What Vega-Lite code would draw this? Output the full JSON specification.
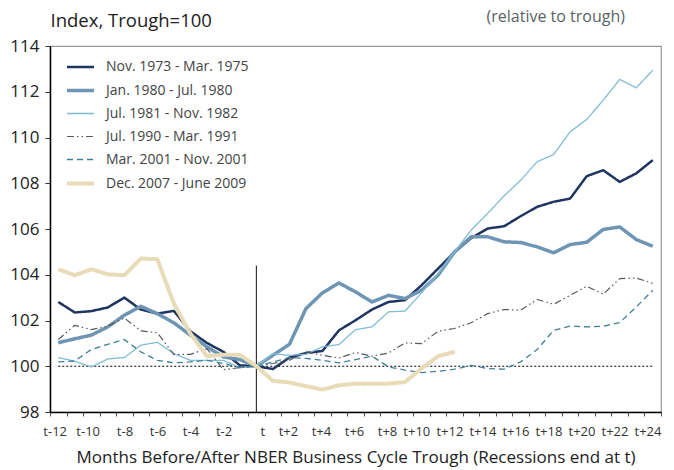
{
"$schema": "https://vega.github.io/schema/vega-lite/v6.json",
"width": 611, "height": 366,
"autosize": "none",
"padding": {"left": 50, "top": 46, "right": 13, "bottom": 58},
"config": {"font": "Open Sans", "view": {"stroke": "#9a9a9a", "strokeWidth": 1.2},
  "legend": {"orient": "none", "legendX": 15, "legendY": 6, "title": null, "symbolType": "stroke", "symbolSize": 729, "labelFontSize": 14, "labelColor": "#444", "labelOffset": 10, "rowPadding": 1, "labelFont": "Open Sans"}},
"title": {"text": "(relative to trough)", "anchor": "end", "frame": "group", "orient": "top", "fontSize": 16, "fontWeight": "normal", "color": "#5a5f66", "baseline": "bottom", "offset": -30, "dx": -36},
"layer": [
 {"data": {"values": [{"a": -12, "b": 24, "y": 100}]},
  "mark": {"type": "rule", "strokeDash": [2, 2], "color": "black", "strokeWidth": 1},
  "encoding": {"x": {"field": "a", "type": "ordinal"}, "x2": {"field": "b"}, "y": {"field": "y", "type": "quantitative"}}},
 {"data": {"values": [{"m": 0, "top": 104.4, "bot": 98}]},
  "mark": {"type": "rule", "color": "#333", "strokeWidth": 1.2},
  "encoding": {"x": {"field": "m", "type": "ordinal"}, "y": {"field": "top", "type": "quantitative"}, "y2": {"field": "bot"}}},
 {"data": {"values": [
{"r":"Nov. 1973 - Mar. 1975","m":-12,"v":102.81},{"r":"Nov. 1973 - Mar. 1975","m":-11,"v":102.35},{"r":"Nov. 1973 - Mar. 1975","m":-10,"v":102.41},{"r":"Nov. 1973 - Mar. 1975","m":-9,"v":102.57},{"r":"Nov. 1973 - Mar. 1975","m":-8,"v":103.0},{"r":"Nov. 1973 - Mar. 1975","m":-7,"v":102.48},{"r":"Nov. 1973 - Mar. 1975","m":-6,"v":102.3},{"r":"Nov. 1973 - Mar. 1975","m":-5,"v":102.42},{"r":"Nov. 1973 - Mar. 1975","m":-4,"v":101.53},{"r":"Nov. 1973 - Mar. 1975","m":-3,"v":101.02},{"r":"Nov. 1973 - Mar. 1975","m":-2,"v":100.63},{"r":"Nov. 1973 - Mar. 1975","m":-1,"v":100.04},{"r":"Nov. 1973 - Mar. 1975","m":0,"v":100},{"r":"Nov. 1973 - Mar. 1975","m":1,"v":99.88},{"r":"Nov. 1973 - Mar. 1975","m":2,"v":100.38},{"r":"Nov. 1973 - Mar. 1975","m":3,"v":100.58},{"r":"Nov. 1973 - Mar. 1975","m":4,"v":100.67},{"r":"Nov. 1973 - Mar. 1975","m":5,"v":101.57},{"r":"Nov. 1973 - Mar. 1975","m":6,"v":102.01},{"r":"Nov. 1973 - Mar. 1975","m":7,"v":102.48},{"r":"Nov. 1973 - Mar. 1975","m":8,"v":102.81},{"r":"Nov. 1973 - Mar. 1975","m":9,"v":102.89},{"r":"Nov. 1973 - Mar. 1975","m":10,"v":103.54},{"r":"Nov. 1973 - Mar. 1975","m":11,"v":104.27},{"r":"Nov. 1973 - Mar. 1975","m":12,"v":104.99},{"r":"Nov. 1973 - Mar. 1975","m":13,"v":105.6},{"r":"Nov. 1973 - Mar. 1975","m":14,"v":106.02},{"r":"Nov. 1973 - Mar. 1975","m":15,"v":106.12},{"r":"Nov. 1973 - Mar. 1975","m":16,"v":106.56},{"r":"Nov. 1973 - Mar. 1975","m":17,"v":106.97},{"r":"Nov. 1973 - Mar. 1975","m":18,"v":107.19},{"r":"Nov. 1973 - Mar. 1975","m":19,"v":107.33},{"r":"Nov. 1973 - Mar. 1975","m":20,"v":108.31},{"r":"Nov. 1973 - Mar. 1975","m":21,"v":108.57},{"r":"Nov. 1973 - Mar. 1975","m":22,"v":108.06},{"r":"Nov. 1973 - Mar. 1975","m":23,"v":108.43},{"r":"Nov. 1973 - Mar. 1975","m":24,"v":109.01},
{"r":"Jan. 1980 - Jul. 1980","m":-12,"v":101.03},{"r":"Jan. 1980 - Jul. 1980","m":-11,"v":101.2},{"r":"Jan. 1980 - Jul. 1980","m":-10,"v":101.36},{"r":"Jan. 1980 - Jul. 1980","m":-9,"v":101.72},{"r":"Jan. 1980 - Jul. 1980","m":-8,"v":102.23},{"r":"Jan. 1980 - Jul. 1980","m":-7,"v":102.62},{"r":"Jan. 1980 - Jul. 1980","m":-6,"v":102.3},{"r":"Jan. 1980 - Jul. 1980","m":-5,"v":101.9},{"r":"Jan. 1980 - Jul. 1980","m":-4,"v":101.36},{"r":"Jan. 1980 - Jul. 1980","m":-3,"v":100.85},{"r":"Jan. 1980 - Jul. 1980","m":-2,"v":100.41},{"r":"Jan. 1980 - Jul. 1980","m":-1,"v":100.29},{"r":"Jan. 1980 - Jul. 1980","m":0,"v":100},{"r":"Jan. 1980 - Jul. 1980","m":1,"v":100.48},{"r":"Jan. 1980 - Jul. 1980","m":2,"v":100.96},{"r":"Jan. 1980 - Jul. 1980","m":3,"v":102.52},{"r":"Jan. 1980 - Jul. 1980","m":4,"v":103.21},{"r":"Jan. 1980 - Jul. 1980","m":5,"v":103.64},{"r":"Jan. 1980 - Jul. 1980","m":6,"v":103.25},{"r":"Jan. 1980 - Jul. 1980","m":7,"v":102.81},{"r":"Jan. 1980 - Jul. 1980","m":8,"v":103.1},{"r":"Jan. 1980 - Jul. 1980","m":9,"v":102.96},{"r":"Jan. 1980 - Jul. 1980","m":10,"v":103.32},{"r":"Jan. 1980 - Jul. 1980","m":11,"v":103.98},{"r":"Jan. 1980 - Jul. 1980","m":12,"v":105.0},{"r":"Jan. 1980 - Jul. 1980","m":13,"v":105.66},{"r":"Jan. 1980 - Jul. 1980","m":14,"v":105.66},{"r":"Jan. 1980 - Jul. 1980","m":15,"v":105.44},{"r":"Jan. 1980 - Jul. 1980","m":16,"v":105.41},{"r":"Jan. 1980 - Jul. 1980","m":17,"v":105.22},{"r":"Jan. 1980 - Jul. 1980","m":18,"v":104.96},{"r":"Jan. 1980 - Jul. 1980","m":19,"v":105.32},{"r":"Jan. 1980 - Jul. 1980","m":20,"v":105.42},{"r":"Jan. 1980 - Jul. 1980","m":21,"v":105.98},{"r":"Jan. 1980 - Jul. 1980","m":22,"v":106.09},{"r":"Jan. 1980 - Jul. 1980","m":23,"v":105.54},{"r":"Jan. 1980 - Jul. 1980","m":24,"v":105.25},
{"r":"Jul. 1981 - Nov. 1982","m":-12,"v":100.38},{"r":"Jul. 1981 - Nov. 1982","m":-11,"v":100.22},{"r":"Jul. 1981 - Nov. 1982","m":-10,"v":99.97},{"r":"Jul. 1981 - Nov. 1982","m":-9,"v":100.32},{"r":"Jul. 1981 - Nov. 1982","m":-8,"v":100.38},{"r":"Jul. 1981 - Nov. 1982","m":-7,"v":100.92},{"r":"Jul. 1981 - Nov. 1982","m":-6,"v":101.05},{"r":"Jul. 1981 - Nov. 1982","m":-5,"v":100.55},{"r":"Jul. 1981 - Nov. 1982","m":-4,"v":100.26},{"r":"Jul. 1981 - Nov. 1982","m":-3,"v":100.26},{"r":"Jul. 1981 - Nov. 1982","m":-2,"v":100.26},{"r":"Jul. 1981 - Nov. 1982","m":-1,"v":99.94},{"r":"Jul. 1981 - Nov. 1982","m":0,"v":100},{"r":"Jul. 1981 - Nov. 1982","m":1,"v":100.55},{"r":"Jul. 1981 - Nov. 1982","m":2,"v":100.48},{"r":"Jul. 1981 - Nov. 1982","m":3,"v":100.52},{"r":"Jul. 1981 - Nov. 1982","m":4,"v":100.85},{"r":"Jul. 1981 - Nov. 1982","m":5,"v":100.95},{"r":"Jul. 1981 - Nov. 1982","m":6,"v":101.6},{"r":"Jul. 1981 - Nov. 1982","m":7,"v":101.72},{"r":"Jul. 1981 - Nov. 1982","m":8,"v":102.38},{"r":"Jul. 1981 - Nov. 1982","m":9,"v":102.41},{"r":"Jul. 1981 - Nov. 1982","m":10,"v":103.21},{"r":"Jul. 1981 - Nov. 1982","m":11,"v":104.05},{"r":"Jul. 1981 - Nov. 1982","m":12,"v":105.0},{"r":"Jul. 1981 - Nov. 1982","m":13,"v":105.95},{"r":"Jul. 1981 - Nov. 1982","m":14,"v":106.68},{"r":"Jul. 1981 - Nov. 1982","m":15,"v":107.45},{"r":"Jul. 1981 - Nov. 1982","m":16,"v":108.13},{"r":"Jul. 1981 - Nov. 1982","m":17,"v":108.94},{"r":"Jul. 1981 - Nov. 1982","m":18,"v":109.26},{"r":"Jul. 1981 - Nov. 1982","m":19,"v":110.25},{"r":"Jul. 1981 - Nov. 1982","m":20,"v":110.79},{"r":"Jul. 1981 - Nov. 1982","m":21,"v":111.63},{"r":"Jul. 1981 - Nov. 1982","m":22,"v":112.54},{"r":"Jul. 1981 - Nov. 1982","m":23,"v":112.17},{"r":"Jul. 1981 - Nov. 1982","m":24,"v":112.94},
{"r":"Jul. 1990 - Mar. 1991","m":-12,"v":101.17},{"r":"Jul. 1990 - Mar. 1991","m":-11,"v":101.79},{"r":"Jul. 1990 - Mar. 1991","m":-10,"v":101.6},{"r":"Jul. 1990 - Mar. 1991","m":-9,"v":101.75},{"r":"Jul. 1990 - Mar. 1991","m":-8,"v":102.11},{"r":"Jul. 1990 - Mar. 1991","m":-7,"v":101.55},{"r":"Jul. 1990 - Mar. 1991","m":-6,"v":101.46},{"r":"Jul. 1990 - Mar. 1991","m":-5,"v":100.52},{"r":"Jul. 1990 - Mar. 1991","m":-4,"v":100.52},{"r":"Jul. 1990 - Mar. 1991","m":-3,"v":100.77},{"r":"Jul. 1990 - Mar. 1991","m":-2,"v":99.85},{"r":"Jul. 1990 - Mar. 1991","m":-1,"v":99.94},{"r":"Jul. 1990 - Mar. 1991","m":0,"v":100},{"r":"Jul. 1990 - Mar. 1991","m":1,"v":100.12},{"r":"Jul. 1990 - Mar. 1991","m":2,"v":100.26},{"r":"Jul. 1990 - Mar. 1991","m":3,"v":100.63},{"r":"Jul. 1990 - Mar. 1991","m":4,"v":100.48},{"r":"Jul. 1990 - Mar. 1991","m":5,"v":100.36},{"r":"Jul. 1990 - Mar. 1991","m":6,"v":100.6},{"r":"Jul. 1990 - Mar. 1991","m":7,"v":100.44},{"r":"Jul. 1990 - Mar. 1991","m":8,"v":100.58},{"r":"Jul. 1990 - Mar. 1991","m":9,"v":101.02},{"r":"Jul. 1990 - Mar. 1991","m":10,"v":100.99},{"r":"Jul. 1990 - Mar. 1991","m":11,"v":101.53},{"r":"Jul. 1990 - Mar. 1991","m":12,"v":101.65},{"r":"Jul. 1990 - Mar. 1991","m":13,"v":101.9},{"r":"Jul. 1990 - Mar. 1991","m":14,"v":102.3},{"r":"Jul. 1990 - Mar. 1991","m":15,"v":102.48},{"r":"Jul. 1990 - Mar. 1991","m":16,"v":102.45},{"r":"Jul. 1990 - Mar. 1991","m":17,"v":102.92},{"r":"Jul. 1990 - Mar. 1991","m":18,"v":102.71},{"r":"Jul. 1990 - Mar. 1991","m":19,"v":103.1},{"r":"Jul. 1990 - Mar. 1991","m":20,"v":103.5},{"r":"Jul. 1990 - Mar. 1991","m":21,"v":103.15},{"r":"Jul. 1990 - Mar. 1991","m":22,"v":103.83},{"r":"Jul. 1990 - Mar. 1991","m":23,"v":103.86},{"r":"Jul. 1990 - Mar. 1991","m":24,"v":103.62},
{"r":"Mar. 2001 - Nov. 2001","m":-12,"v":100.19},{"r":"Mar. 2001 - Nov. 2001","m":-11,"v":100.23},{"r":"Mar. 2001 - Nov. 2001","m":-10,"v":100.73},{"r":"Mar. 2001 - Nov. 2001","m":-9,"v":100.96},{"r":"Mar. 2001 - Nov. 2001","m":-8,"v":101.17},{"r":"Mar. 2001 - Nov. 2001","m":-7,"v":100.63},{"r":"Mar. 2001 - Nov. 2001","m":-6,"v":100.26},{"r":"Mar. 2001 - Nov. 2001","m":-5,"v":100.15},{"r":"Mar. 2001 - Nov. 2001","m":-4,"v":100.19},{"r":"Mar. 2001 - Nov. 2001","m":-3,"v":100.26},{"r":"Mar. 2001 - Nov. 2001","m":-2,"v":100.12},{"r":"Mar. 2001 - Nov. 2001","m":-1,"v":99.94},{"r":"Mar. 2001 - Nov. 2001","m":0,"v":100},{"r":"Mar. 2001 - Nov. 2001","m":1,"v":100.19},{"r":"Mar. 2001 - Nov. 2001","m":2,"v":100.38},{"r":"Mar. 2001 - Nov. 2001","m":3,"v":100.34},{"r":"Mar. 2001 - Nov. 2001","m":4,"v":100.26},{"r":"Mar. 2001 - Nov. 2001","m":5,"v":100.15},{"r":"Mar. 2001 - Nov. 2001","m":6,"v":100.29},{"r":"Mar. 2001 - Nov. 2001","m":7,"v":100.44},{"r":"Mar. 2001 - Nov. 2001","m":8,"v":99.97},{"r":"Mar. 2001 - Nov. 2001","m":9,"v":99.83},{"r":"Mar. 2001 - Nov. 2001","m":10,"v":99.72},{"r":"Mar. 2001 - Nov. 2001","m":11,"v":99.78},{"r":"Mar. 2001 - Nov. 2001","m":12,"v":99.87},{"r":"Mar. 2001 - Nov. 2001","m":13,"v":100.04},{"r":"Mar. 2001 - Nov. 2001","m":14,"v":99.9},{"r":"Mar. 2001 - Nov. 2001","m":15,"v":99.87},{"r":"Mar. 2001 - Nov. 2001","m":16,"v":100.19},{"r":"Mar. 2001 - Nov. 2001","m":17,"v":100.73},{"r":"Mar. 2001 - Nov. 2001","m":18,"v":101.57},{"r":"Mar. 2001 - Nov. 2001","m":19,"v":101.76},{"r":"Mar. 2001 - Nov. 2001","m":20,"v":101.72},{"r":"Mar. 2001 - Nov. 2001","m":21,"v":101.75},{"r":"Mar. 2001 - Nov. 2001","m":22,"v":101.91},{"r":"Mar. 2001 - Nov. 2001","m":23,"v":102.59},{"r":"Mar. 2001 - Nov. 2001","m":24,"v":103.32},
{"r":"Dec. 2007 - June 2009","m":-12,"v":104.24},{"r":"Dec. 2007 - June 2009","m":-11,"v":103.98},{"r":"Dec. 2007 - June 2009","m":-10,"v":104.24},{"r":"Dec. 2007 - June 2009","m":-9,"v":104.02},{"r":"Dec. 2007 - June 2009","m":-8,"v":103.98},{"r":"Dec. 2007 - June 2009","m":-7,"v":104.71},{"r":"Dec. 2007 - June 2009","m":-6,"v":104.68},{"r":"Dec. 2007 - June 2009","m":-5,"v":102.74},{"r":"Dec. 2007 - June 2009","m":-4,"v":101.43},{"r":"Dec. 2007 - June 2009","m":-3,"v":100.44},{"r":"Dec. 2007 - June 2009","m":-2,"v":100.5},{"r":"Dec. 2007 - June 2009","m":-1,"v":100.5},{"r":"Dec. 2007 - June 2009","m":0,"v":100},{"r":"Dec. 2007 - June 2009","m":1,"v":99.36},{"r":"Dec. 2007 - June 2009","m":2,"v":99.29},{"r":"Dec. 2007 - June 2009","m":3,"v":99.13},{"r":"Dec. 2007 - June 2009","m":4,"v":98.98},{"r":"Dec. 2007 - June 2009","m":5,"v":99.17},{"r":"Dec. 2007 - June 2009","m":6,"v":99.24},{"r":"Dec. 2007 - June 2009","m":7,"v":99.24},{"r":"Dec. 2007 - June 2009","m":8,"v":99.24},{"r":"Dec. 2007 - June 2009","m":9,"v":99.31},{"r":"Dec. 2007 - June 2009","m":10,"v":99.9},{"r":"Dec. 2007 - June 2009","m":11,"v":100.44},{"r":"Dec. 2007 - June 2009","m":12,"v":100.63}
  ]},
  "mark": {"type": "line", "strokeJoin": "round"},
  "encoding": {
   "x": {"field": "m", "type": "ordinal",
     "scale": {"type": "band", "paddingInner": 0, "paddingOuter": 0, "domain": [-12,-11,-10,-9,-8,-7,-6,-5,-4,-3,-2,-1,0,1,2,3,4,5,6,7,8,9,10,11,12,13,14,15,16,17,18,19,20,21,22,23,24]},
     "axis": {"labelExpr": "datum.value % 2 != 0 ? '' : (datum.value == 0 ? 't' : (datum.value > 0 ? 't+' + datum.value : 't' + datum.value))", "labelAngle": 0, "labelOverlap": false, "tickBand": "extent", "labelOffset": 8.25, "tickSize": 4, "tickColor": "#555", "domainColor": "black", "domainWidth": 1.5, "labelFontSize": 13, "labelColor": "#333", "labelPadding": 15, "title": "Months Before/After NBER Business Cycle Trough (Recessions end at t)", "titleFontSize": 17, "titleFontWeight": "normal", "titleColor": "#222", "titlePadding": 11, "grid": false}},
   "y": {"field": "v", "type": "quantitative",
     "scale": {"domain": [98, 114], "nice": false, "zero": false},
     "axis": {"values": [98,99,100,101,102,103,104,105,106,107,108,109,110,111,112,113,114], "labelExpr": "datum.value % 2 == 0 ? datum.label : ''", "tickSize": 5, "tickColor": "#333", "domainColor": "black", "domainWidth": 1.5, "labelFontSize": 17, "labelColor": "#222", "labelPadding": 6, "grid": false, "title": "Index, Trough=100", "titleAngle": 0, "titleAlign": "left", "titleBaseline": "alphabetic", "titleX": 0, "titleY": -20, "titleFontSize": 18.5, "titleFontWeight": "normal", "titleColor": "#222"}},
   "color": {"field": "r", "type": "nominal",
     "scale": {"domain": ["Nov. 1973 - Mar. 1975","Jan. 1980 - Jul. 1980","Jul. 1981 - Nov. 1982","Jul. 1990 - Mar. 1991","Mar. 2001 - Nov. 2001","Dec. 2007 - June 2009"], "range": ["#1f3560","#6e96b4","#80bcd6","#555a60","#3f7f9a","#e8dcb8"]}},
   "strokeDash": {"field": "r", "type": "nominal",
     "scale": {"domain": ["Nov. 1973 - Mar. 1975","Jan. 1980 - Jul. 1980","Jul. 1981 - Nov. 1982","Jul. 1990 - Mar. 1991","Mar. 2001 - Nov. 2001","Dec. 2007 - June 2009"], "range": [[1,0],[1,0],[1,0],[7,3,1.5,3,1.5,3],[6,4],[1,0]]}},
   "strokeWidth": {"field": "r", "type": "nominal",
     "scale": {"type": "ordinal", "domain": ["Nov. 1973 - Mar. 1975","Jan. 1980 - Jul. 1980","Jul. 1981 - Nov. 1982","Jul. 1990 - Mar. 1991","Mar. 2001 - Nov. 2001","Dec. 2007 - June 2009"], "range": [2.5,3.5,1.3,1.2,1.3,4]}}
  }}
]
}
